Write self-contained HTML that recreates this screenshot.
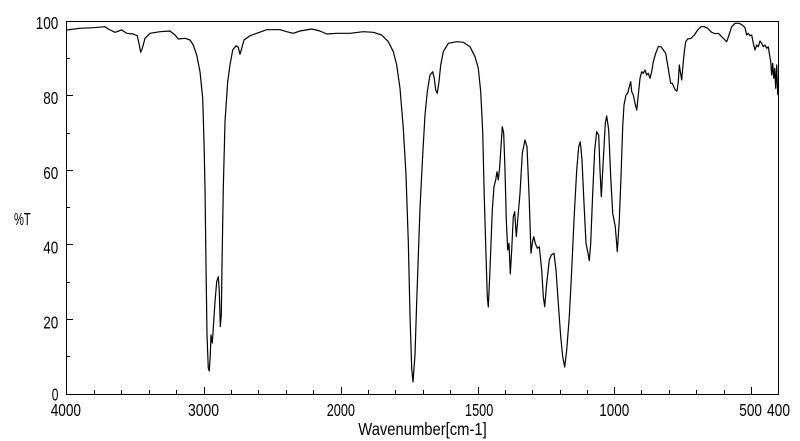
<!DOCTYPE html>
<html>
<head>
<meta charset="utf-8">
<style>
html,body{margin:0;padding:0;background:#fff;}
svg{display:block;}
text{font-family:"Liberation Sans",sans-serif;fill:#000;}
</style>
</head>
<body>
<svg width="800" height="441" viewBox="0 0 800 441" xmlns="http://www.w3.org/2000/svg">
<rect x="0" y="0" width="800" height="441" fill="#fff"/>
<!-- axes box -->
<g stroke="#000" stroke-width="1" fill="none" shape-rendering="crispEdges">
<path d="M66.5 21.5 H778.5 V394.5 H66.5 Z"/>
<!-- y ticks -->
<path d="M66 95.5 H73 M66 170.5 H73 M66 244.5 H73 M66 319.5 H73"/>
<path d="M66 58.5 H70 M66 133.5 H70 M66 207.5 H70 M66 282.5 H70 M66 356.5 H70"/>
<!-- x major ticks -->
<path d="M204.5 387 V394 M341.5 387 V394 M478.5 387 V394 M614.5 387 V394 M751.5 387 V394"/>
<!-- x minor ticks -->
<path d="M94.5 390 V394 M121.5 390 V394 M149.5 390 V394 M176.5 390 V394 M231.5 390 V394 M258.5 390 V394 M286.5 390 V394 M313.5 390 V394 M368.5 390 V394 M395.5 390 V394 M423.5 390 V394 M450.5 390 V394 M505.5 390 V394 M532.5 390 V394 M560.5 390 V394 M587.5 390 V394 M641.5 390 V394 M669.5 390 V394 M696.5 390 V394 M724.5 390 V394"/>
</g>
<!-- y labels -->
<g font-size="17.5">
<text x="35.7" y="29" textLength="22.6" lengthAdjust="spacingAndGlyphs">100</text>
<text x="43.3" y="104" textLength="15" lengthAdjust="spacingAndGlyphs">80</text>
<text x="43.3" y="179" textLength="15" lengthAdjust="spacingAndGlyphs">60</text>
<text x="43.3" y="253.5" textLength="15" lengthAdjust="spacingAndGlyphs">40</text>
<text x="43.3" y="328.5" textLength="15" lengthAdjust="spacingAndGlyphs">20</text>
<text x="51.7" y="400.5" textLength="6.7" lengthAdjust="spacingAndGlyphs">0</text>
<text x="14" y="225" textLength="16.7" lengthAdjust="spacingAndGlyphs">%T</text>
<!-- x labels -->
<text x="50.7" y="416" textLength="30.3" lengthAdjust="spacingAndGlyphs">4000</text>
<text x="188" y="416" textLength="31" lengthAdjust="spacingAndGlyphs">3000</text>
<text x="326.7" y="416" textLength="28.3" lengthAdjust="spacingAndGlyphs">2000</text>
<text x="465" y="416" textLength="28.3" lengthAdjust="spacingAndGlyphs">1500</text>
<text x="599.3" y="416" textLength="30" lengthAdjust="spacingAndGlyphs">1000</text>
<text x="739.3" y="416" textLength="22.7" lengthAdjust="spacingAndGlyphs">500</text>
<text x="767" y="416" textLength="23" lengthAdjust="spacingAndGlyphs">400</text>
<text x="358.3" y="435" textLength="128.4" lengthAdjust="spacingAndGlyphs">Wavenumber[cm-1]</text>
</g>
<!-- spectrum -->
<polyline fill="none" stroke="#000" stroke-width="1.2" stroke-linejoin="round" points="
66.7,30 80,28.3 93.3,27.7 105,26.7 108.3,29 115,32.3 121.7,30 126.7,33.3 133.3,34 137.3,35.7 139.3,45 140.7,52.3 142.3,48.3 145,38.3 150,33.3 160,31.7 170,31 175,35 178.3,39 185,38.3 190,40 193.3,45 196.7,55 200,71.7 202.7,98.3 204,141.7 205,188.3 206,265 207,335 208.3,368.3 209.3,371 210.3,355 211,335 212.3,343 213.3,328 215,301.7 216.7,281.7 218.3,276.7 219.3,291.7 220.3,326.7 221.3,315 222,265 223.3,188.3 225,121.7 227.7,81.7 230,65 232.7,50 236,45.7 238.3,47.3 240,54.3 241.7,48.3 244,40 250,35.7 256.7,33.3
266.7,29.7 280,29.7 286.7,31.7 293.3,33.3 300,31 311.7,29 320,31 326.7,34 336.7,33.3 350,33.3 363.3,31.7 373.3,32.3 381.7,35 388.3,41.7 393.3,51.7 396.7,65 400,88.3 403.3,128.3 406,175 408.3,241.7 410,315 411.7,368.3 413,382 415,355 416.7,301.7 420,208.3 422.7,155 425,115 427.3,91.7 430,75 432.7,71.7 434.3,78.3 435.7,90 437.3,93.3 439,81.7 440.7,65 443.3,51.7 448.3,43.3 456.7,41.7 463.3,42.3 470,46.7 475,56.7 478.3,68.3 480.7,91.7 482.7,131.7 484.3,198.3 486,255 487.3,296.7 488.3,307 489.7,276.7 491,243.3 492.3,210 494,186.7 495.7,180 497,171.7 498.3,180 499.7,166.7 501,146.7 502.3,126.7 503.7,133.3 505,170 506.3,220 507.7,250 509,243.3 510.3,274 511.7,250 513.3,216.7 514.7,211.7 516.3,236.7 517.7,220 520,193.3 522.3,153.3 525,140 527,146.7 529,193.3 531,253.3 532.3,243.3 533.7,236.7 535.3,243.3 537.3,248.3 539.3,246.7 541.7,270 543.3,296.7 544.7,306.7 546.7,283.3 549.3,260 551.3,255 554,253.3 556,270 558.3,303.3 560.7,336.7 562.7,356.7 564.7,367 566.7,350 569.3,316.7 571.7,270 574,220 576.7,170 578.7,146.7 580.3,141.7 582,160 584,203.3 586,243.3 588,253.3 589.3,260.7 590.7,243.3 592.7,193.3 594.7,150 596.7,131.7 598.7,135 600,170 601.3,196.7 603.3,160 605.3,123.3 606.7,116 608.7,130 610.7,176.7 612.7,213.3 615.3,226.7 617.3,251.7 619.3,220 621,176.7 622.7,126.7 624,105 626,95 627.7,93.3 629.3,86.7 630.7,81.7 631.7,91.7 633.3,95 635,103.3 636.7,110 638.3,95 640,78.3 641.7,71.7 643.3,73.3 645,70 646.7,75 648.3,73.3 650,78.3 651.7,71.7 653.3,61.7 655.7,53.3 658.3,46.7 661,46.7 663.3,50 665.7,53.3 667.7,65 669.3,75 670.7,83.3 672.3,83.3 673.7,86.7 675.3,90 677,91 678.3,81.7 679.3,65 680.3,71.7 681.7,80 683,65 684.3,51.7 685.7,41.7 687.7,39 691,38.3 694.3,35 697.7,30 701,26.7 704.3,26.7 707.7,28.3 711.7,32.3 715,33.7 718.3,33.3 721.7,36.7 725,40 726.7,41.7 729,35 731.7,26.7 735,23.3 739,23.3 742.3,25 745,27.7 746.7,35 748.3,33.3 750,35.7 751.7,35 753.3,43.3 755,50 756.7,45 758.3,46.7 760,41 761.7,43.3 763.3,46.7 765,45 766.7,48.3 768.3,46.7 769.3,53.3 770.7,61.7 771.7,75 772.7,63.3 773.7,78.3 774.7,68.3 775.7,88.3 776.7,65 777.7,95"/>
</svg>
</body>
</html>
